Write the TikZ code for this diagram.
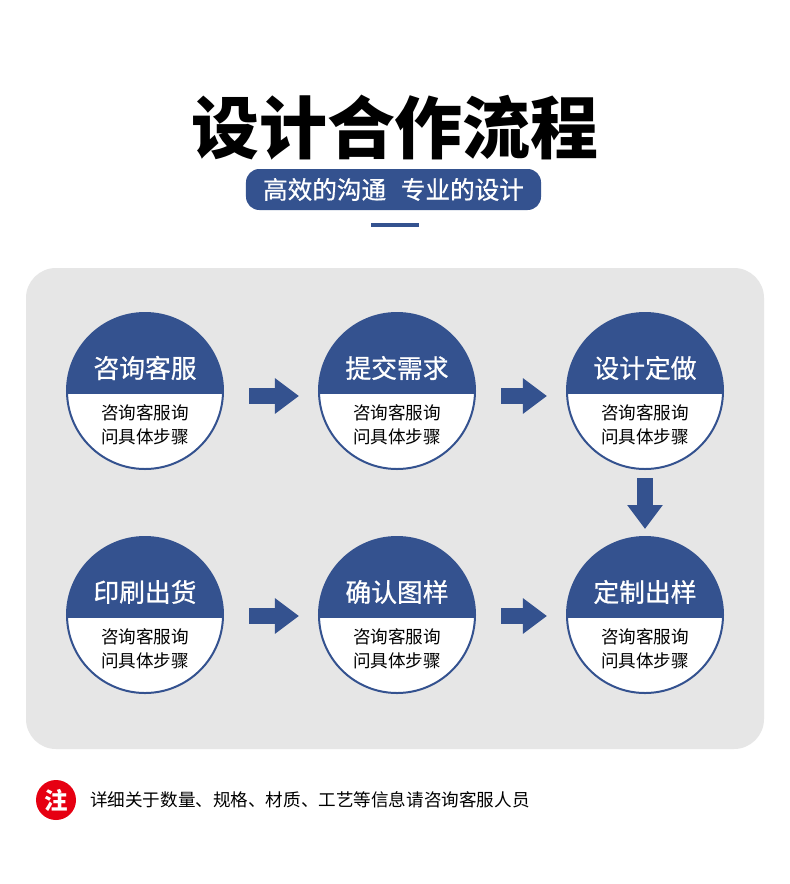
\documentclass[tikz,border=0pt]{standalone}
\usepackage{fontspec}
\setmainfont{Noto Sans CJK SC}
\newfontfamily\medio{Noto Sans CJK SC}[FakeBold=0.8]
\usepackage{tikz}
\usetikzlibrary{arrows.meta}
\definecolor{azulOscuro}{HTML}{34528F}
\definecolor{grisFondo}{HTML}{E6E6E6}
\definecolor{rojoNota}{HTML}{E60012}

\begin{document}
\begin{tikzpicture}[x=0.03cm,y=-0.03cm,
    etapa/.style={circle,draw=azulOscuro,line width=0.06cm,fill=white,minimum size=4.68cm,inner sep=0pt,
      path picture={\fill[azulOscuro] (path picture bounding box.north west) rectangle ([yshift=-0.09cm]path picture bounding box.east);}},
    cabeza/.style={text=white,font=\medio\fontsize{22}{24}\selectfont},
    cuerpo/.style={align=center,font=\fontsize{15}{20.5}\selectfont},
    flecha/.style={azulOscuro,line width=0.48cm,-{Triangle[width=1.02cm,length=0.72cm]}}]
    \useasboundingbox (0,0) rectangle (790,884);
    \fill[white] (0,0) rectangle (790,884);

    % cabecera
    \node (titulo) at (395,128) {\fontsize{58}{60}\selectfont\bfseries 设计合作流程};
    \node[fill=azulOscuro,rounded corners=0.4cm,minimum width=8.85cm,minimum height=1.23cm,text=white,
      font=\medio\fontsize{21}{23}\selectfont] (lema) at (393.5,189.5) {高效的沟通\hspace{0.6em}专业的设计};
    \draw[azulOscuro,line width=0.12cm] (371,225) -- (419,225);

    % panel gris
    \fill[grisFondo,rounded corners=0.9cm] (26,268) rectangle (764,749);

    % etapas
    \foreach \nm/\x/\y/\ttl in {c1/145/391/咨询客服,c2/397/391/提交需求,c3/645/391/设计定做,
                                c4/145/615/印刷出货,c5/397/615/确认图样,c6/645/615/定制出样}{
      \node[etapa] (\nm) at (\x,\y) {};
      \node[cabeza] (\nm t) at (\x,\y-23) {\ttl};
      \node[cuerpo] (\nm d) at (\x,\y+34) {咨询客服询\\问具体步骤};
    }

    % flechas
    \draw[flecha,shorten <=0.75cm,shorten >=0.57cm] ([yshift=-0.15cm]c1.east) -- ([yshift=-0.15cm]c2.west);
    \draw[flecha,shorten <=0.75cm,shorten >=0.57cm] ([yshift=-0.15cm]c2.east) -- ([yshift=-0.15cm]c3.west);
    \draw[flecha,shorten <=0.24cm,shorten >=0.21cm] (c3) -- (c6);
    \draw[flecha,shorten <=0.75cm,shorten >=0.57cm] ([yshift=-0.03cm]c4.east) -- ([yshift=-0.03cm]c5.west);
    \draw[flecha,shorten <=0.75cm,shorten >=0.57cm] ([yshift=-0.03cm]c5.east) -- ([yshift=-0.03cm]c6.west);

    % nota
    \node[circle,fill=rojoNota,minimum size=1.2cm,inner sep=0pt,text=white,
      font=\fontsize{20}{22}\selectfont\bfseries] (nota) at (56,800) {注};
    \node[anchor=west,font=\fontsize{15}{17}\selectfont,inner sep=0pt] (notatexto) at (90,800)
      {详细关于数量、规格、材质、工艺等信息请咨询客服人员};
  \end{tikzpicture}
\end{document}
